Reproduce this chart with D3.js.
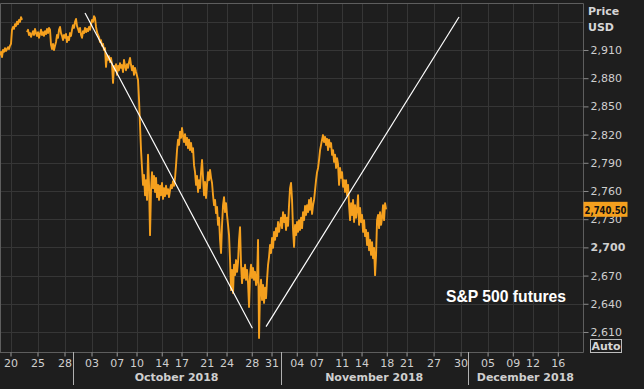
<!DOCTYPE html>
<html>
<head>
<meta charset="utf-8">
<script src="https://cdn.jsdelivr.net/npm/d3@7"></script>
<style>
  html, body { margin: 0; padding: 0; background: #1e1e1e; }
  svg { display: block; }
  text { font-family: "DejaVu Sans", Verdana, sans-serif; }
</style>
</head>
<body>
<div id="chart"></div>
<script>
var width = 644,
    height = 389,
    plotRight = 583,
    plotTop = 3,
    plotBottom = 352;

// time is counted in trading days, 0 = Sep 20 2018 (weekends and Thanksgiving left out)
var firstSample = -7 / 6,
    sampleStep = 1 / 9;

// S&P 500 futures, one reading per sample step (null = no data)
var prices = [
  2904.5, 2908, 2902.5, 2910, 2908, 2912, 2909, 2911, 2913, 2911, 2914.5, 2916.5, 2931.5, 2934.5, 2932.5,
  2937.5, 2935.5, 2940, 2937.5, 2942, 2940, 2945, 2942, null, null, null, null,
  2929, 2931.5, 2926, 2928, 2924, 2927, 2930, 2926, 2932.5, 2928, 2925, 2929, 2923, 2927, 2931.5, 2926,
  2929, 2925, 2930, 2927, 2932.5, 2928, 2933.5, 2931.5,
  2915.5, 2911, 2916.5, 2910, 2914.5, 2918.5, 2926, 2923, 2931.5, 2934.5,
  2928, 2925, 2920.5, 2926, 2923, 2927, 2918.5, 2924, 2920.5, 2928,
  2925, 2931.5, 2936.5, 2933.5, 2940, 2943, 2935.5, 2932.5, 2929, 2933.5,
  2926, 2923, 2930, 2928, 2933.5, 2929, 2932.5, 2930, 2934.5, 2931.5,
  2937.5, 2942, 2940, 2946, 2944, 2934.5, 2929, 2926, 2924, 2918.5,
  2920.5, 2914.5, 2916.5, 2910, 2912, 2892, 2904.5, 2899.5, 2903.5, 2897,
  2901.5, 2895, 2875, 2893, 2888.5, 2895, 2883.5, 2893, 2888.5, 2896,
  2891, 2894, 2886.5, 2899.5, 2893, 2888.5, 2895, 2891, 2897, 2901.5,
  2894, 2888.5, 2893, 2883.5, 2891, 2886.5, 2882.5, 2878, 2857, 2830,
  2803.5, 2784.5, 2766.5, 2777, 2755.5, 2771.5, 2750.5, 2798.5, 2766.5, 2713,
  2761, 2780, 2763, 2776, 2759, 2774, 2753.5, 2766.5, 2750.5, 2765.5,
  2755.5, 2768.5, 2751.5, 2763, 2754.5, 2765.5, 2757, 2762, 2753.5, 2761,
  2766.5, 2763, 2770.5, 2765.5, 2774, 2787.5, 2803.5, 2814.5, 2809, 2823,
  2816.5, 2827, 2818.5, 2812, 2820.5, 2809, 2816.5, 2805.5, 2814.5, 2803.5,
  2811, 2801.5, 2805.5, 2787.5, 2780, 2766.5, 2776, 2759, 2771.5, 2763,
  2780, 2793, 2774, 2755.5, 2769.5, 2752.5, 2766.5, 2780, 2771.5, 2782.5,
  2774, 2768.5, 2755.5, 2745, 2750.5, 2736.5, 2743, 2724, 2731.5, 2708,
  2694, 2724, 2745, 2753.5, 2737.5, 2747, 2734.5, 2724, 2713, 2686.5,
  2654.5, 2676, 2651.5, 2681.5, 2670.5, 2686.5, 2674, 2684.5, 2708, 2721.5,
  2681.5, 2662, 2678, 2667.5, 2681.5, 2665.5, 2676, 2662, 2636.5, 2670.5,
  2681.5, 2667.5, 2678, 2665.5, 2674, 2660, 2665.5, 2708, 2603.5, 2654.5,
  2665.5, 2644, 2660, 2641, 2657, 2646, 2665.5, 2681.5, 2690, 2702.5,
  2694, 2710, 2699.5, 2716.5, 2708, 2720.5, 2712, 2727, 2716.5, 2724,
  2731.5, 2720.5, 2737.5, 2727, 2734.5, 2718.5, 2731.5, 2723, 2745, 2763,
  2768.5, 2750.5, 2718.5, 2700.5, 2724, 2713, 2727, 2716.5, 2729, 2718.5,
  2731.5, 2720.5, 2737.5, 2729, 2744, 2734.5, 2745, 2737.5, 2750.5, 2740,
  2752.5, 2735.5, 2745, 2750.5, 2761, 2771.5, 2780, 2784.5, 2793, 2803.5,
  2809, 2814.5, 2819.5, 2812, 2817.5, 2809, 2815.5, 2803.5, 2814.5, 2807,
  2811, 2798.5, 2803.5, 2791, 2798.5, 2784.5, 2795, 2788.5, 2766.5, 2784.5,
  2774, 2780, 2764.5, 2771.5, 2759, 2771.5, 2755.5, 2766.5, 2745, 2729,
  2747, 2734.5, 2750.5, 2727, 2745, 2731.5, 2740, 2755.5, 2724, 2742,
  2727, 2734.5, 2716.5, 2729, 2712, 2718.5, 2702.5, 2715.5, 2697, 2708,
  2692, 2705.5, 2688.5, 2699.5, 2670.5, 2692, 2729, 2734.5, 2720.5, 2737.5,
  2724, 2731.5, 2745, 2729, 2747, 2740.5
];
var lastPrice = 2740.50;

var priceTicks = [2610, 2640, 2670, 2700, 2730, 2760, 2790, 2820, 2850, 2880, 2910, 2940];
var priceLabelMax = 2910;

var dayTicks  = [0, 3, 6, 9, 11.8, 14, 16.8, 19, 21.8, 24, 26.8, 29, 31.8, 34, 36.8, 39, 41.8, 44, 47, 50, 53, 55.8, 58, 60.8];
var dayLabels = ["20", "25", "28", "03", "07", "10", "14", "17", "21", "24", "28", "31",
                 "04", "07", "11", "14", "18", "21", "27", "30", "05", "09", "12", "16"];

var monthStarts = [6.9, 30.0, 50.8];
var monthLabels = ["October 2018", "November 2018", "December 2018"];

// hand drawn trend lines [day, price]
var trendStarts = [[8.28, 2949.4], [28.39, 2615.7]];
var trendEnds   = [[26.87, 2613.9], [49.83, 2945.1]];

var x = d3.scaleLinear()
    .domain([-7 / 6, 63.6])
    .range([0, plotRight]);

var y = d3.scaleLinear()
    .domain([2588.7, 2960])
    .range([plotBottom, plotTop]);

var svg = d3.select("#chart").append("svg")
    .attr("width", width)
    .attr("height", height);

svg.append("rect")
    .attr("width", width)
    .attr("height", height)
    .attr("fill", "#1e1e1e");

// grid
svg.append("g").selectAll("line")
    .data(priceTicks)
  .enter().append("line")
    .attr("x1", 0).attr("x2", plotRight)
    .attr("y1", function(d) { return Math.round(y(d)) + 0.5; })
    .attr("y2", function(d) { return Math.round(y(d)) + 0.5; })
    .attr("stroke", "#363636");

svg.append("g").selectAll("line")
    .data(dayTicks)
  .enter().append("line")
    .attr("x1", function(d) { return Math.round(x(d)) + 0.5; })
    .attr("x2", function(d) { return Math.round(x(d)) + 0.5; })
    .attr("y1", plotTop).attr("y2", plotBottom)
    .attr("stroke", "#363636");

// frame
svg.append("path")
    .attr("d", "M0.5," + plotBottom + "V" + (plotTop + 0.5) + "H" + (plotRight + 0.5) + "V" + (plotBottom + 0.5) + "H0")
    .attr("fill", "none")
    .attr("stroke", "#5e5e5e");

// price line
var series = prices.map(function(p, i) { return {t: firstSample + i * sampleStep, price: p}; });

var line = d3.line()
    .defined(function(d) { return d.price != null; })
    .x(function(d) { return x(d.t); })
    .y(function(d) { return y(d.price); });

svg.append("path")
    .datum(series)
    .attr("d", line)
    .attr("fill", "none")
    .attr("stroke", "#f5a01e")
    .attr("stroke-width", 1.9)
    .attr("stroke-linejoin", "round");

// trend lines
svg.append("g").selectAll("line")
    .data(trendStarts)
  .enter().append("line")
    .attr("x1", function(d) { return x(d[0]); })
    .attr("y1", function(d) { return y(d[1]); })
    .attr("x2", function(d, i) { return x(trendEnds[i][0]); })
    .attr("y2", function(d, i) { return y(trendEnds[i][1]); })
    .attr("stroke", "#ffffff")
    .attr("stroke-width", 1.2);

// right axis
var yAxis = d3.axisRight(y)
    .tickValues(priceTicks.filter(function(d) { return d <= priceLabelMax; }))
    .tickFormat(d3.format(",d"))
    .tickSize(5)
    .tickPadding(2);

var gy = svg.append("g")
    .attr("transform", "translate(" + (plotRight + 0.5) + ",0)")
    .call(yAxis);
gy.select(".domain").remove();
gy.selectAll(".tick line").attr("stroke", "#8a8a8a");
gy.selectAll(".tick text")
    .attr("fill", "#cfcfcf")
    .style("font-size", "11px")
    .style("font-weight", function(d) { return d === 2700 ? "bold" : "normal"; });

svg.append("text")
    .attr("x", 588).attr("y", 15)
    .attr("fill", "#d6d6d6")
    .style("font-size", "11px").style("font-weight", "bold")
    .text("Price");
svg.append("text")
    .attr("x", 588).attr("y", 31)
    .attr("fill", "#d6d6d6")
    .style("font-size", "11px").style("font-weight", "bold")
    .text("USD");

// last price tag
svg.append("rect")
    .attr("x", plotRight + 0.5)
    .attr("y", y(lastPrice) - 7.5)
    .attr("width", 44)
    .attr("height", 15)
    .attr("fill", "#f5a01e");
svg.append("text")
    .attr("x", plotRight + 1.5)
    .attr("y", y(lastPrice) + 4.5)
    .attr("fill", "#111")
    .attr("textLength", 42)
    .attr("lengthAdjust", "spacingAndGlyphs")
    .style("font-size", "11px").style("font-weight", "bold")
    .text(d3.format(",.2f")(lastPrice));

// auto button
svg.append("rect")
    .attr("x", 590.5).attr("y", 339.5)
    .attr("width", 31).attr("height", 13)
    .attr("fill", "none")
    .attr("stroke", "#bdbdbd");
svg.append("text")
    .attr("x", 606).attr("y", 350)
    .attr("text-anchor", "middle")
    .attr("fill", "#d6d6d6")
    .style("font-size", "11px").style("font-weight", "bold")
    .text("Auto");

// bottom axis
var xAxis = d3.axisBottom(x)
    .tickValues(dayTicks)
    .tickFormat(function(d, i) { return dayLabels[i]; })
    .tickSize(4)
    .tickPadding(3);

var gx = svg.append("g")
    .attr("transform", "translate(0," + (plotBottom + 0.5) + ")")
    .call(xAxis);
gx.select(".domain").remove();
gx.selectAll(".tick line").attr("stroke", "#9a9a9a");
gx.selectAll(".tick text")
    .attr("fill", "#cfcfcf")
    .style("font-size", "11px");

// month separators and labels
svg.append("g").selectAll("line")
    .data(monthStarts)
  .enter().append("line")
    .attr("x1", function(d) { return Math.round(x(d)) + 0.5; })
    .attr("x2", function(d) { return Math.round(x(d)) + 0.5; })
    .attr("y1", plotBottom).attr("y2", 385)
    .attr("stroke", "#b0b0b0");

svg.append("g").selectAll("text")
    .data(monthLabels)
  .enter().append("text")
    .attr("x", function(d, i) {
      var a = x(monthStarts[i]),
          b = i + 1 < monthStarts.length ? x(monthStarts[i + 1]) : plotRight;
      return (a + b) / 2;
    })
    .attr("y", 381)
    .attr("text-anchor", "middle")
    .attr("fill", "#cfcfcf")
    .style("font-size", "11px").style("font-weight", "bold")
    .text(function(d) { return d; });

svg.append("text")
    .attr("x", 446).attr("y", 302)
    .attr("fill", "#ffffff")
    .style("font-family", "'Liberation Sans', Arial, sans-serif")
    .style("font-size", "15.7px").style("font-weight", "bold")
    .text("S&P 500 futures");
</script>
</body>
</html>
